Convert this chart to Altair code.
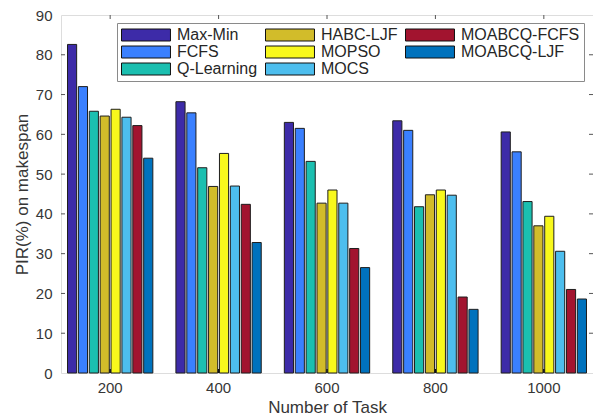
import altair as alt
import pandas as pd

# Task counts on the x axis
tasks = ["200", "400", "600", "800", "1000"]

# Scheduling methods, in bar order within each group
methods = ["Max-Min", "FCFS", "Q-Learning", "HABC-LJF", "MOPSO", "MOCS",
           "MOABCQ-FCFS", "MOABCQ-LJF"]

# PIR (%) on makespan per method, one value per task count
max_min = [82.6, 68.2, 63.0, 63.4, 60.6]
fcfs = [72.0, 65.4, 61.5, 61.0, 55.6]
q_learning = [65.8, 51.6, 53.2, 41.8, 43.1]
habc_ljf = [64.6, 46.9, 42.7, 44.8, 37.0]
mopso = [66.3, 55.2, 46.0, 46.0, 39.4]
mocs = [64.3, 47.0, 42.7, 44.7, 30.6]
moabcq_fcfs = [62.2, 42.4, 31.3, 19.1, 21.0]
moabcq_ljf = [54.0, 32.8, 26.5, 16.0, 18.6]

series = [max_min, fcfs, q_learning, habc_ljf, mopso, mocs, moabcq_fcfs, moabcq_ljf]

colors = ["#3d2ba8", "#3a80ff", "#1bbfb0", "#d2bc2a",
          "#f8f81c", "#4dbeee", "#a2142f", "#0072bd"]

y_ticks = [0, 10, 20, 30, 40, 50, 60, 70, 80, 90]

W, H = 532, 358
FONT = "Liberation Sans"
TEXT = "#363636"
FRAME = "#8a8a8a"

rows = []
for m, vals in zip(methods, series):
    for t, v in zip(tasks, vals):
        rows.append({"task": t, "method": m, "pir": v})
df = pd.DataFrame(rows)

x_scale = alt.Scale(paddingInner=0.213, paddingOuter=0.06)
x_axis = alt.Axis(title="Number of Task", labelAngle=0, domain=False, ticks=False,
                  labelPadding=7, labelFont=FONT, labelFontSize=15, labelColor=TEXT,
                  titleFont=FONT, titleFontSize=17, titleFontWeight="normal",
                  titleColor=TEXT, titlePadding=4)
y_scale = alt.Scale(domain=[0, 90], nice=False)
y_axis = alt.Axis(title="PIR(%) on makespan", values=y_ticks, grid=False,
                  domain=False, ticks=False, labelPadding=9,
                  labelOverlap=False, labelFlush=False,
                  labelFont=FONT, labelFontSize=15, labelColor=TEXT,
                  titleFont=FONT, titleFontSize=17, titleFontWeight="normal",
                  titleColor=TEXT, titlePadding=4)

bars = alt.Chart(df).mark_bar(stroke="#1e1e1e", strokeWidth=1).encode(
    x=alt.X("task:N", sort=tasks, scale=x_scale, axis=x_axis),
    xOffset=alt.XOffset("method:N", sort=methods,
                        scale=alt.Scale(paddingInner=0.16, paddingOuter=0)),
    y=alt.Y("pir:Q", scale=y_scale, axis=y_axis),
    color=alt.Color(
        "method:N",
        scale=alt.Scale(domain=methods, range=colors),
        legend=alt.Legend(
            title=None, orient="none", legendX=56, legendY=8, columns=3,
            symbolType="M-1,-0.8H5.53V0.8H-1Z", symbolSize=225,
            symbolStrokeColor="#111111", symbolStrokeWidth=1, symbolOpacity=1,
            labelFont=FONT, labelFontSize=16, labelColor="#262626", labelOffset=40,
            labelLimit=200, rowPadding=1, columnPadding=5, padding=4,
            strokeColor=FRAME, fillColor="white",
        ),
    ),
)

task_df = pd.DataFrame({"task": tasks})
tick_df = pd.DataFrame({"pir": y_ticks[1:-1]})

x_same = alt.X("task:N", sort=tasks, scale=x_scale, axis=x_axis)
y_same = alt.Y("pir:Q", scale=y_scale, axis=y_axis)

# small inward tick marks on the frame
top_ticks = alt.Chart(task_df).mark_rule(color="#555555").encode(
    x=x_same, y=alt.value(0), y2=alt.value(4))
bottom_ticks = alt.Chart(task_df).mark_rule(color="#111111", strokeWidth=1.5).encode(
    x=x_same, y=alt.value(H - 4), y2=alt.value(H))
left_ticks = alt.Chart(tick_df).mark_rule(color="#555555").encode(
    y=y_same, x=alt.value(0), x2=alt.value(4))
right_ticks = alt.Chart(tick_df).mark_rule(color="#555555").encode(
    y=y_same, x=alt.value(W - 4), x2=alt.value(W))

chart = alt.layer(bars, top_ticks, bottom_ticks, left_ticks, right_ticks).properties(
    width=W, height=H,
    autosize=alt.AutoSizeParams(type="none"),
    padding={"left": 61, "top": 15, "right": 0, "bottom": 43},
).configure_view(stroke=FRAME, strokeWidth=1).configure(background="white")

chart.save("out.html", embed_options={"renderer": "svg", "actions": False})
